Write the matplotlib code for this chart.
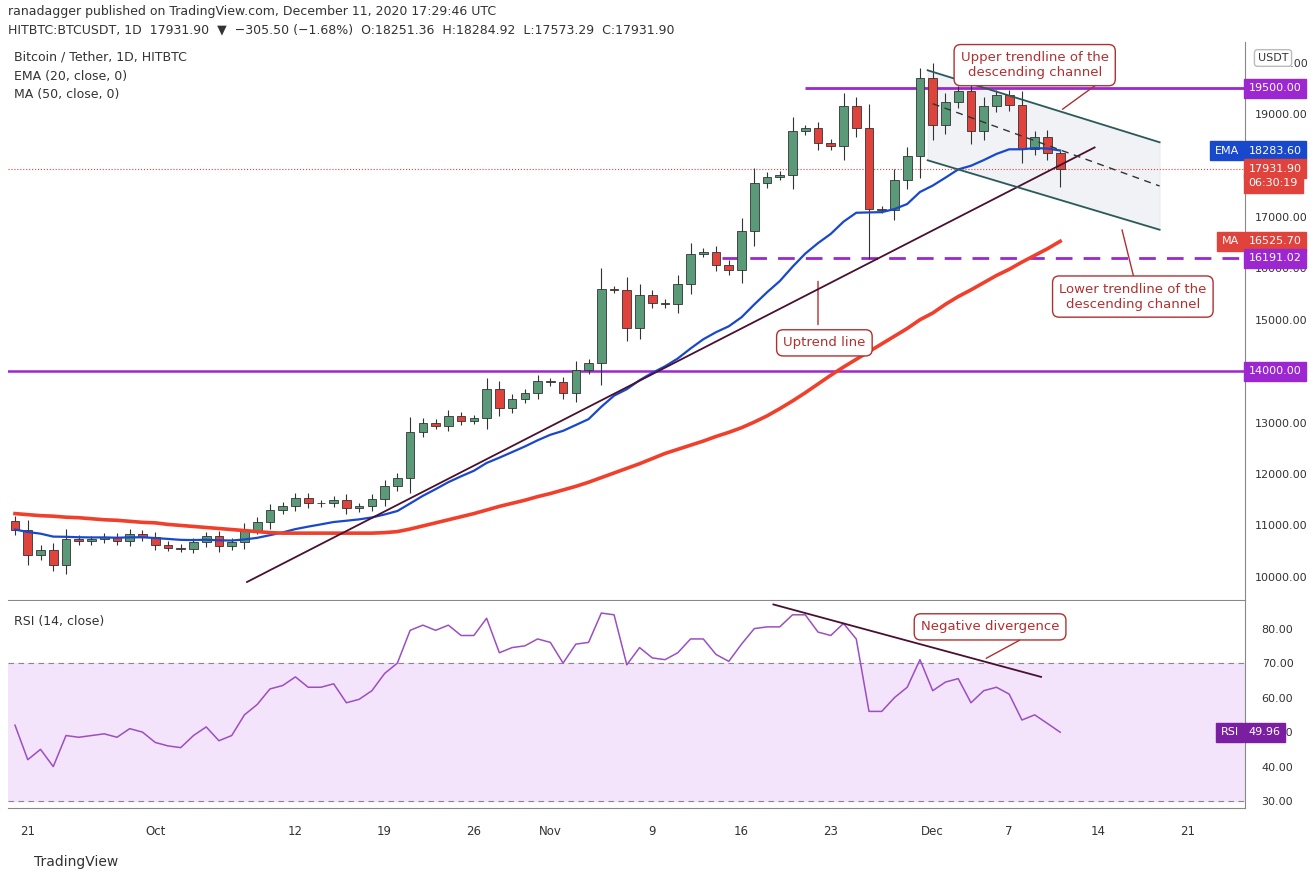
import matplotlib
matplotlib.use('Agg')
import matplotlib.pyplot as plt
import numpy as np
import pandas as pd

UP, DOWN = '#5b9a78', '#e0433b'
PURPLE = '#9c27d0'

# daily open/close from Sep 20 to Dec 11 2020
oc = [(11080, 10920), (10920, 10420), (10420, 10530), (10530, 10240), (10240, 10740),
      (10740, 10690), (10690, 10730), (10730, 10775), (10775, 10700), (10700, 10840),
      (10840, 10780), (10780, 10620), (10620, 10570), (10570, 10550), (10550, 10670),
      (10670, 10790), (10790, 10600), (10600, 10670), (10670, 10920), (10920, 11060),
      (11060, 11300), (11300, 11380), (11380, 11540), (11540, 11430), (11430, 11440),
      (11440, 11500), (11500, 11330), (11330, 11370), (11370, 11510), (11510, 11760),
      (11760, 11920), (11920, 12820), (12820, 12990), (12990, 12940), (12940, 13130),
      (13130, 13040), (13040, 13080), (13080, 13660), (13660, 13290), (13290, 13460),
      (13460, 13570), (13570, 13800), (13800, 13780), (13780, 13570), (13570, 14030),
      (14030, 14150), (14150, 15590), (15590, 15580), (15580, 14840), (14840, 15480),
      (15480, 15330), (15330, 15300), (15300, 15700), (15700, 16280), (16280, 16320),
      (16320, 16070), (16070, 15960), (15960, 16720), (16720, 17660), (17660, 17780),
      (17780, 17820), (17820, 18670), (18670, 18720), (18720, 18430), (18430, 18370),
      (18370, 19160), (19160, 18730), (18730, 17150), (17150, 17140), (17140, 17720),
      (17720, 18190), (18190, 19700), (19700, 18790), (18790, 19230), (19230, 19440),
      (19440, 18670), (18670, 19150), (19150, 19360), (19360, 19170), (19170, 18320),
      (18320, 18550), (18550, 18250), (18250, 17932)]
df = pd.DataFrame(oc, columns=['open', 'close'])
span = (df['open'] - df['close']).abs()
df['high'] = df[['open', 'close']].max(axis=1) + 60 + span * 0.25
df['low'] = df[['open', 'close']].min(axis=1) - 60 - span * 0.25
df.loc[67, 'low'] = 16190
df.loc[71, 'high'] = 19900
df.loc[82, 'low'] = 17573
df.loc[82, 'high'] = 18285
x = np.arange(len(df))
ema = df['close'].ewm(span=20, adjust=False).mean()

ma50 = [11230, 11210, 11190, 11180, 11160, 11150, 11130, 11110, 11100, 11080, 11060,
        11050, 11020, 11000, 10980, 10960, 10940, 10920, 10900, 10880, 10860, 10850,
        10850, 10850, 10850, 10850, 10850, 10850, 10850, 10860, 10880, 10930, 10990,
        11050, 11110, 11170, 11230, 11300, 11370, 11430, 11490, 11560, 11620, 11690,
        11760, 11840, 11930, 12020, 12110, 12200, 12300, 12400, 12480, 12560, 12640,
        12730, 12810, 12900, 13010, 13130, 13270, 13420, 13580, 13750, 13920, 14080,
        14230, 14380, 14530, 14680, 14830, 15000, 15130, 15300, 15450, 15580, 15720,
        15860, 15980, 16120, 16250, 16380, 16525]

rsi = [52, 42, 45, 40, 49, 48.5, 49, 49.5, 48.5, 51, 50, 47, 46, 45.5, 49, 51.5, 47.5, 49,
       55, 58, 62.5, 63.5, 66, 63, 63, 64, 58.5, 59.5, 62, 67, 70, 79.5, 81, 79.5, 81,
       78, 78, 83, 73, 74.5, 75, 77, 76, 70, 75.5, 76, 84.5, 84, 69.5, 74.5, 71.5, 71,
       73, 77, 77, 72.5, 70.5, 75.5, 80, 80.5, 80.5, 84, 84, 79, 78, 81.5, 77, 56, 56,
       60, 63, 71, 62, 64.5, 65.5, 58.5, 62, 63, 61, 53.5, 55, 52.5, 49.96]

fig = plt.figure(figsize=(13.11, 8.81), dpi=100)
ax = fig.add_axes([8 / 1311, 1 - 600 / 881, 1237 / 1311, 558 / 881])
ar = fig.add_axes([8 / 1311, 1 - 808 / 881, 1237 / 1311, 207 / 881], sharex=ax)

for i, r in df.iterrows():
    c = UP if r['close'] >= r['open'] else DOWN
    ax.vlines(i, r['low'], r['high'], color='#333333', lw=0.8, zorder=3)
    ax.bar(i, abs(r['close'] - r['open']) or 20, bottom=min(r['open'], r['close']),
           width=0.68, color=c, edgecolor='#333333', lw=0.6, zorder=4)

ax.plot(x, ema, color='#1848cc', lw=1.6, zorder=5)
ax.plot(x, ma50, color='#f0402c', lw=2.6, zorder=5)

# levels
ax.axhline(14000, color=PURPLE, lw=1.8)
ax.hlines(19500, 62, 97, color=PURPLE, lw=2)
ax.hlines(16191, 55.5, 97, color=PURPLE, lw=2, linestyles=(0, (6, 4)))

# trendlines and channel
ax.plot([18.2, 84.7], [9900, 18350], color='#4a1030', lw=1.3, zorder=6)
cx = np.array([71.6, 89.8])
up_line = np.array([19850, 18450])
lo_line = np.array([18100, 16750])
ax.fill_between(cx, lo_line, up_line, color='#d7dce3', alpha=0.35, zorder=1)
ax.plot(cx, up_line, color='#2b5a5a', lw=1.3, zorder=6)
ax.plot(cx, lo_line, color='#2b5a5a', lw=1.3, zorder=6)
ax.plot([72, 89.8], [19200, 17600], color='#333333', lw=1, ls=(0, (5, 4)), zorder=6)
ax.axhline(17932, color=DOWN, lw=0.8, ls=':')

box = dict(boxstyle='round,pad=0.5', fc='white', ec='#b03030', lw=1)
ax.text(80, 19950, 'Upper trendline of the\ndescending channel', ha='center', va='center',
        fontsize=9.5, color='#b03030', bbox=box, zorder=8)
ax.annotate('', xy=(82, 19060), xytext=(85, 19600),
            arrowprops=dict(arrowstyle='-', color='#b03030', lw=1))
ax.text(87.7, 15450, 'Lower trendline of the\ndescending channel', ha='center', va='center',
        fontsize=9.5, color='#b03030', bbox=box, zorder=8)
ax.annotate('', xy=(86.8, 16800), xytext=(87.8, 15800),
            arrowprops=dict(arrowstyle='-', color='#b03030', lw=1))
ax.text(63.5, 14550, 'Uptrend line', ha='center', va='center',
        fontsize=9.5, color='#b03030', bbox=box, zorder=8)
ax.annotate('', xy=(63, 15800), xytext=(63, 14850),
            arrowprops=dict(arrowstyle='-', color='#b03030', lw=1))

ax.set_ylim(9550, 20400)
ax.set_xlim(-0.55, 96.5)
ax.yaxis.tick_right()
ax.set_yticks(range(10000, 20001, 1000))
ax.set_yticklabels([f'{v:.2f}' for v in range(10000, 20001, 1000)], fontsize=8, color='#333333')
ax.tick_params(axis='y', length=0, pad=7)
ax.tick_params(axis='x', length=0, labelbottom=False)
for s in ['top', 'left']:
    ax.spines[s].set_visible(False)

tags = [(19500, '19500.00', PURPLE), (18283.6, '18283.60', '#1848cc'), (17932, '17931.90', DOWN),
        (17650, '06:30:19', DOWN), (16525.7, '16525.70', DOWN), (16191, '16191.02', PURPLE),
        (14000, '14000.00', PURPLE)]
for y, t, c in tags:
    ax.text(1.003, y, t, transform=ax.get_yaxis_transform(), fontsize=8, color='white',
            va='center', ha='left', bbox=dict(boxstyle='square,pad=0.4', fc=c, ec=c), zorder=9)
for y, t, c in [(18283.6, 'EMA', '#1848cc'), (16525.7, 'MA', DOWN)]:
    ax.text(0.995, y, t, transform=ax.get_yaxis_transform(), fontsize=8, color='white',
            va='center', ha='right', bbox=dict(boxstyle='square,pad=0.4', fc=c, ec=c), zorder=9)

ax.text(0.005, 0.985, 'Bitcoin / Tether, 1D, HITBTC', transform=ax.transAxes, fontsize=9,
        color='#333333', va='top')
ax.text(0.005, 0.95, 'EMA (20, close, 0)', transform=ax.transAxes, fontsize=9, color='#333333', va='top')
ax.text(0.005, 0.918, 'MA (50, close, 0)', transform=ax.transAxes, fontsize=9, color='#333333', va='top')

# RSI panel
ar.axhspan(30, 70, color='#f3e3fb', zorder=0)
ar.axhline(70, color='#888888', lw=0.8, ls=(0, (5, 4)))
ar.axhline(30, color='#888888', lw=0.8, ls=(0, (5, 4)))
ar.plot(x, rsi, color='#9c4fc0', lw=1.1)
ar.plot([59.5, 80.5], [87, 66], color='#4a1030', lw=1.3)
ar.text(76.5, 80.5, 'Negative divergence', ha='center', va='center', fontsize=9.5,
        color='#b03030', bbox=box)
ar.annotate('', xy=(76, 71), xytext=(79, 77),
            arrowprops=dict(arrowstyle='-', color='#b03030', lw=1))
ar.text(0.005, 0.93, 'RSI (14, close)', transform=ar.transAxes, fontsize=9, color='#333333', va='top')
ar.set_ylim(28, 88)
ar.yaxis.tick_right()
ar.set_yticks(range(30, 81, 10))
ar.set_yticklabels([f'{v:.2f}' for v in range(30, 81, 10)], fontsize=8, color='#333333')
ar.tick_params(axis='y', length=0, pad=12)
ar.text(1.003, 49.96, '49.96', transform=ar.get_yaxis_transform(), fontsize=8, color='white',
        va='center', ha='left', bbox=dict(boxstyle='square,pad=0.4', fc='#7b1fa2', ec='#7b1fa2'))
ar.text(0.995, 49.96, 'RSI', transform=ar.get_yaxis_transform(), fontsize=8, color='white',
        va='center', ha='right', bbox=dict(boxstyle='square,pad=0.4', fc='#7b1fa2', ec='#7b1fa2'))
for s in ['top', 'left']:
    ar.spines[s].set_visible(False)

ticks = [1, 11, 22, 29, 36, 42, 50, 57, 64, 72, 78, 85, 92]
labels = ['21', 'Oct', '12', '19', '26', 'Nov', '9', '16', '23', 'Dec', '7', '14', '21']
ar.set_xticks(ticks)
ar.set_xticklabels(labels, fontsize=8.5, color='#333333')
ar.tick_params(axis='x', length=0, pad=12)
for a in (ax, ar):
    for s in a.spines.values():
        s.set_color('#888888')

fig.text(8 / 1311, 1 - 12 / 881, 'ranadagger published on TradingView.com, December 11, 2020 17:29:46 UTC',
         fontsize=9, color='#333333', va='center')
fig.text(8 / 1311, 1 - 30 / 881, 'HITBTC:BTCUSDT, 1D  17931.90  \u25bc  \u2212305.50 (\u22121.68%)  '
         'O:18251.36  H:18284.92  L:17573.29  C:17931.90', fontsize=9, color='#333333', va='center')
fig.text(34 / 1311, 1 - 862 / 881, 'TradingView', fontsize=10, color='#333333', va='center')
fig.text(1273 / 1311, 1 - 58 / 881, 'USDT', fontsize=8, color='#333333', va='center', ha='center',
         bbox=dict(boxstyle='round,pad=0.3', fc='white', ec='#bbbbbb'))

fig.savefig('out.png', dpi=100)
